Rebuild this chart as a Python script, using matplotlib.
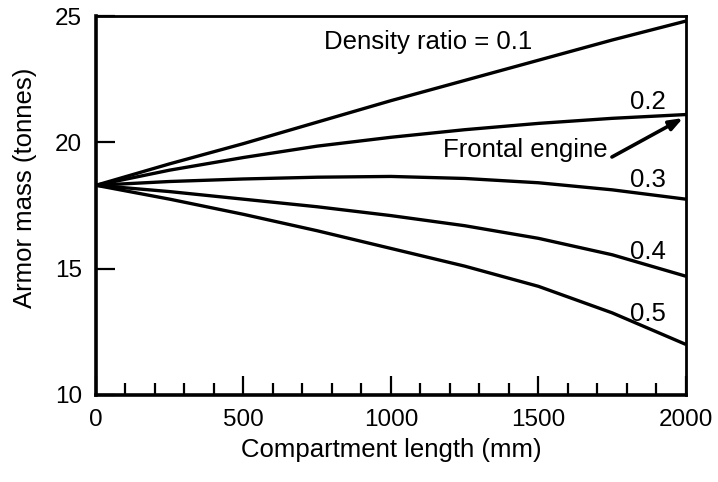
import numpy as np
import matplotlib
matplotlib.use("Agg")
import matplotlib.pyplot as plt
from matplotlib.ticker import MultipleLocator

plt.rcParams["font.family"] = ["Liberation Sans", "DejaVu Sans"]

# Compartment length (mm) and armor mass (tonnes)
length_mm = [0, 250, 500, 750, 1000, 1250, 1500, 1750, 2000]
mass_01 = [18.3, 19.15, 19.95, 20.8, 21.65, 22.45, 23.25, 24.05, 24.8]
mass_02 = [18.3, 18.9, 19.4, 19.85, 20.2, 20.5, 20.75, 20.95, 21.1]
mass_03 = [18.3, 18.45, 18.55, 18.62, 18.65, 18.57, 18.4, 18.12, 17.75]
mass_04 = [18.3, 18.05, 17.75, 17.45, 17.1, 16.7, 16.2, 15.55, 14.7]
mass_05 = [18.3, 17.75, 17.15, 16.5, 15.8, 15.1, 14.3, 13.25, 12.0]

curve_labels = ["0.2", "0.3", "0.4", "0.5"]
label_y = [21.6, 18.5, 15.65, 13.2]

fig = plt.figure(figsize=(7.18, 4.82), dpi=100)
ax = fig.add_axes([0.1337, 0.1805, 0.8217, 0.7863])

for m in [mass_01, mass_02, mass_03, mass_04, mass_05]:
    ax.plot(length_mm, m, color="black", lw=2.4, solid_capstyle="butt",
            solid_joinstyle="round")

ax.set_xlim(0, 2000)
ax.set_ylim(10, 25)
ax.set_xticks([0, 500, 1000, 1500, 2000])
ax.set_yticks([10, 15, 20, 25])
ax.xaxis.set_minor_locator(MultipleLocator(100))

ax.tick_params(axis="both", which="major", direction="in", length=14,
               width=1.6, labelsize=17.5, colors="black")
ax.tick_params(axis="x", which="minor", direction="in", length=9, width=1.6)
ax.tick_params(axis="x", which="major", pad=10)
ax.tick_params(axis="y", which="major", pad=10)

for side in ["left", "bottom"]:
    ax.spines[side].set_linewidth(2.6)
for side in ["top", "right"]:
    ax.spines[side].set_linewidth(2.0)

ax.set_xlabel("Compartment length (mm)", fontsize=18.5, labelpad=5)
ax.set_ylabel("Armor mass (tonnes)", fontsize=18.5)
ax.yaxis.set_label_coords(-0.1, 0.546)

ax.text(1125, 23.97, "Density ratio = 0.1", fontsize=18.5, ha="center", va="center")
for lab, y in zip(curve_labels, label_y):
    ax.text(1871, y, lab, fontsize=18.5, ha="center", va="center")

ax.text(1454, 19.7, "Frontal engine", fontsize=18.5, ha="center", va="center")
ax.annotate("", xy=(1990, 20.96), xytext=(1749, 19.42),
            arrowprops=dict(arrowstyle="-|>,head_length=0.8,head_width=0.3",
                            color="black", lw=2.6, shrinkA=0, shrinkB=0))

fig.savefig("out.png", dpi=100)
